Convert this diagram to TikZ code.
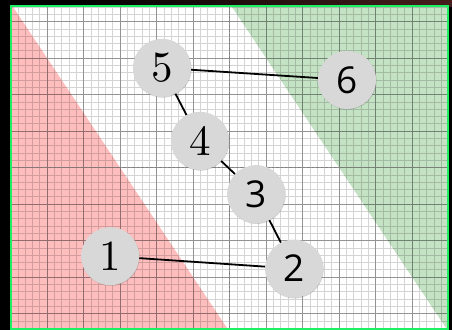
\documentclass[tikz,border=0pt]{standalone}
\usepackage{fontspec}
\newfontfamily\digsans{Open Sans}
\usetikzlibrary{shadows}
\definecolor{frame}{RGB}{30,240,100}
\definecolor{negzone}{RGB}{255,190,190}
\definecolor{poszone}{RGB}{196,226,196}
\definecolor{vertexfill}{RGB}{216,216,216}
\newcommand{\bignum}[1]{\scalebox{4.3}{#1}}
\tikzset{
  vertex/.style={circle, fill=vertexfill, minimum size=58pt, inner sep=0pt,
    drop shadow={shadow xshift=0.6pt, shadow yshift=-0.8pt, opacity=0.35}},
  serifnum/.style={font=\fontsize{10}{10}\selectfont},
  sansnum/.style={font=\digsans\fontsize{37}{37}\selectfont},
  edge/.style={line width=1.8pt, black},
  minorgrid/.style={black, opacity=0.17, line width=0.55pt},
  majorgrid/.style={black, opacity=0.3, line width=0.85pt},
  axisline/.style={gray, line width=0.7pt, dash pattern=on 2.5pt off 2pt}
}
\begin{document}
\begin{tikzpicture}[x=36.5pt, y=36.5pt]
  % canvas and dark surroundings
  \useasboundingbox (-6.288,-4.452) rectangle (6.096,4.589);
  \fill[black] (-6.288,-4.452) rectangle (6.096,4.589);
  \shade[left color=black, right color={rgb,255:red,70;green,30;blue,28}]
    (-4.5,4.40) rectangle (6.096,4.589);

  % plot area
  \fill[white] (-6,-4.42) rectangle (6,4.42);
  \begin{scope}
    \clip (-6,-4.42) rectangle (6,4.42);
    % half-planes 1.5x + y < -4.5 and 1.5x + y > 4.5
    \fill[negzone] (-8,7.5) -- (2,-7.5) -- (-8,-7.5) -- cycle;
    \fill[poszone] (-2,7.5) -- (8,-7.5) -- (8,7.5) -- cycle;
    % grid
    \draw[minorgrid, step=0.2] (-6,-4.42) grid (6,4.42);
    \draw[majorgrid, step=1] (-6,-4.42) grid (6,4.42);
    % axes
    \draw[axisline] (-6,0) -- (6,0);
    \draw[axisline] (0,-4.42) -- (0,4.42);
  \end{scope}
  \draw[frame, line width=2pt] (-6,-4.42) rectangle (6,4.42);

  % vertices
  \node[vertex, serifnum] (n5) at (-1.85,2.73) {\bignum{5}};
  \node[vertex, serifnum] (n4) at (-0.81,0.73) {\bignum{4}};
  \node[vertex, sansnum]  (n3) at (0.73,-0.73) {3};
  \node[vertex, sansnum]  (n2) at (1.77,-2.77) {2};
  \node[vertex, serifnum] (n1) at (-3.27,-2.43) {\bignum{1}};
  \node[vertex, sansnum]  (n6) at (3.22,2.40) {6};

  % edges
  \draw[edge] (n5) -- (n6);
  \draw[edge] (n5) -- (n4);
  \draw[edge] (n4) -- (n3);
  \draw[edge] (n3) -- (n2);
  \draw[edge] (n2) -- (n1);
\end{tikzpicture}
\end{document}
